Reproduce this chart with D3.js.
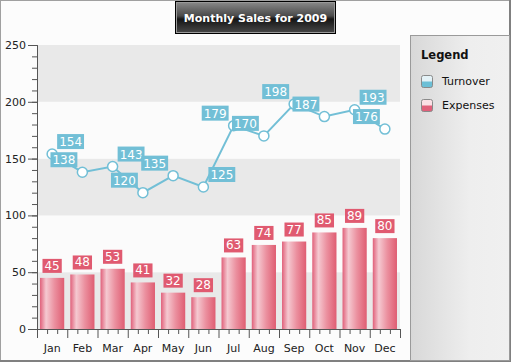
<!DOCTYPE html>
<html>
<head>
<meta charset="utf-8">
<script src="https://cdn.jsdelivr.net/npm/d3@7"></script>
<style>
  body { margin: 0; background: #fff; }
  svg { display: block; font-family: "DejaVu Sans", Verdana, sans-serif; }
</style>
</head>
<body>
<svg id="chart" width="511" height="362"></svg>
<script>
// chart data
var months = ["Jan", "Feb", "Mar", "Apr", "May", "Jun", "Jul", "Aug", "Sep", "Oct", "Nov", "Dec"];
var turnover = [154, 138, 143, 120, 135, 125, 179, 170, 198, 187, 193, 176];
var expenses = [45, 48, 53, 41, 32, 28, 63, 74, 77, 85, 89, 80];
var turnoverLabelSide = ["r", "l", "r", "l", "l", "r", "l", "l", "l", "l", "r", "l"];
var yTicks = [0, 50, 100, 150, 200, 250];
var seriesNames = ["Turnover", "Expenses"];

var svg = d3.select("#chart"),
    defs = svg.append("defs");

var plot = { left: 37, right: 400, top: 45, bottom: 329 };

// gradients
var barGrad = defs.append("linearGradient").attr("id", "barGrad");
[[0, "#e0607a"], [0.25, "#f5c9d1"], [0.6, "#eb909f"], [1, "#df5d72"]].forEach(function (s) {
  barGrad.append("stop").attr("offset", s[0]).attr("stop-color", s[1]);
});
var legGrad = defs.append("linearGradient").attr("id", "legGrad");
legGrad.append("stop").attr("offset", 0).attr("stop-color", "#d8d8d8");
legGrad.append("stop").attr("offset", 0.6).attr("stop-color", "#eeeeee");
legGrad.append("stop").attr("offset", 1).attr("stop-color", "#f0f0f0");
var titleGrad = defs.append("linearGradient").attr("id", "titleGrad")
  .attr("x1", 0).attr("y1", 0).attr("x2", 0).attr("y2", 1);
[[0, "#8c8c8c"], [0.45, "#4a4a4a"], [0.55, "#151515"], [1, "#4a4a4a"]].forEach(function (s) {
  titleGrad.append("stop").attr("offset", s[0]).attr("stop-color", s[1]);
});
var swatchColors = [["#e4f2f7", "#6cbfd6"], ["#fbe0e5", "#e0607a"]];
swatchColors.forEach(function (c, i) {
  var g = defs.append("linearGradient").attr("id", "sw" + i)
    .attr("x1", 0).attr("y1", 0).attr("x2", 0).attr("y2", 1);
  g.append("stop").attr("offset", 0).attr("stop-color", c[0]);
  g.append("stop").attr("offset", 0.45).attr("stop-color", c[0]);
  g.append("stop").attr("offset", 0.55).attr("stop-color", c[1]);
  g.append("stop").attr("offset", 1).attr("stop-color", c[1]);
});

// background + outer frame
svg.append("rect").attr("width", 511).attr("height", 362).attr("fill", "#fcfcfc");
svg.append("rect").attr("x", 0.5).attr("y", 0.5).attr("width", 509).attr("height", 360)
  .attr("fill", "none").attr("stroke", "#a0a0a0");
svg.append("rect").attr("x", 509).attr("y", 0).attr("width", 2).attr("height", 362).attr("fill", "#808080");
svg.append("rect").attr("x", 0).attr("y", 360).attr("width", 511).attr("height", 2).attr("fill", "#808080");

// scales
var x = d3.scaleBand().domain(months).range([plot.left, plot.right])
  .paddingInner(0.2).paddingOuter(0.1);
var xi = d3.scaleLinear().domain([0, months.length]).range([plot.left, plot.right]);
var y = d3.scaleLinear().domain([0, 250]).range([plot.bottom, plot.top]);

// alternating bands
var bands = d3.pairs(yTicks);
svg.append("g").selectAll("rect").data(bands).join("rect")
  .attr("x", plot.left).attr("width", plot.right - plot.left)
  .attr("y", function (d) { return y(d[1]); })
  .attr("height", function (d) { return y(d[0]) - y(d[1]); })
  .attr("fill", function (d, i) { return i % 2 === 0 ? "#e9e9e9" : "#fbfbfb"; });

// y axis
var yAxisG = svg.append("g").attr("transform", "translate(" + plot.left + ",0)");
yAxisG.call(d3.axisLeft(y).tickValues(d3.range(0, 251, 10)).tickSize(5).tickFormat(""));
yAxisG.append("g").call(d3.axisLeft(y).tickValues(yTicks).tickSize(9).tickPadding(2));
yAxisG.selectAll(".domain").attr("stroke", "#555");
yAxisG.selectAll("line").attr("stroke", "#555");
yAxisG.selectAll("text").attr("font-size", 11).attr("fill", "#222")
  .attr("font-family", "DejaVu Sans, sans-serif");

// bars
svg.append("g").selectAll("rect").data(expenses).join("rect")
  .attr("x", function (d, i) { return x(months[i]); })
  .attr("width", x.bandwidth())
  .attr("y", function (d) { return y(d); })
  .attr("height", function (d) { return y(0) - y(d); })
  .attr("fill", "url(#barGrad)");

// x axis
var xAxisG = svg.append("g").attr("transform", "translate(0," + plot.bottom + ")");
var minor = [];
for (var i = 0; i < months.length; i++) { minor.push(i + 1 / 3, i + 2 / 3); }
xAxisG.append("g").call(d3.axisBottom(xi).tickValues(minor).tickSize(5).tickFormat(""));
xAxisG.append("g").call(d3.axisBottom(xi).tickValues(d3.range(0, months.length + 1)).tickSize(9).tickFormat(""));
xAxisG.append("g").call(d3.axisBottom(x).tickSize(0).tickPadding(15));
xAxisG.selectAll(".domain").attr("stroke", "#555");
xAxisG.selectAll("line").attr("stroke", "#555");
xAxisG.selectAll("text").attr("font-size", 11).attr("fill", "#222")
  .attr("font-family", "DejaVu Sans, sans-serif");

// bar value labels
var barLabels = svg.append("g").selectAll("g").data(expenses).join("g");
barLabels.each(function (d, i) {
  var g = d3.select(this),
      cx = x(months[i]) + x.bandwidth() / 2,
      bottom = y(d) - 5;
  var rect = g.append("rect").attr("fill", "#e05a70");
  var t = g.append("text").text(d).attr("x", cx).attr("y", bottom - 3)
    .attr("text-anchor", "middle").attr("font-size", 12).attr("fill", "#fff");
  var w = t.node().getComputedTextLength() + 4;
  rect.attr("x", cx - w / 2).attr("y", bottom - 14).attr("width", w).attr("height", 14);
});

// turnover line
var lineColor = "#72bfd6";
var line = d3.line()
  .x(function (d, i) { return x(months[i]) + x.bandwidth() / 2; })
  .y(function (d) { return y(d); });
svg.append("path").datum(turnover).attr("d", line)
  .attr("fill", "none").attr("stroke", lineColor).attr("stroke-width", 2);
svg.append("g").selectAll("circle").data(turnover).join("circle")
  .attr("cx", function (d, i) { return x(months[i]) + x.bandwidth() / 2; })
  .attr("cy", function (d) { return y(d); })
  .attr("r", 5).attr("fill", "#fff").attr("stroke", lineColor).attr("stroke-width", 1.5);

// turnover labels
svg.append("g").selectAll("g").data(turnover).join("g").each(function (d, i) {
  var g = d3.select(this),
      px = x(months[i]) + x.bandwidth() / 2,
      bottom = y(d) - 5;
  var rect = g.append("rect").attr("fill", lineColor);
  var t = g.append("text").text(d).attr("font-size", 12).attr("fill", "#fff")
    .attr("text-anchor", "middle").attr("y", bottom - 3);
  var w = t.node().getComputedTextLength() + 4;
  var left = turnoverLabelSide[i] === "r" ? px + 5 : px - 5 - w;
  rect.attr("x", left).attr("y", bottom - 15).attr("width", w).attr("height", 15);
  t.attr("x", left + w / 2);
});

// title
var title = svg.append("g");
title.append("rect").attr("x", 175.5).attr("y", 1.5).attr("width", 160).attr("height", 32)
  .attr("fill", "url(#titleGrad)").attr("stroke", "#000");
title.append("rect").attr("x", 176.5).attr("y", 2.5).attr("width", 158).attr("height", 30)
  .attr("fill", "none").attr("stroke", "#9a9a9a");
title.append("text").text("Monthly Sales for 2009").attr("x", 255.5).attr("y", 22)
  .attr("text-anchor", "middle").attr("font-size", 11).attr("font-weight", "bold")
  .attr("fill", "#fff");

// legend
var legend = svg.append("g");
legend.append("rect").attr("x", 410.5).attr("y", 35.5).attr("width", 99).attr("height", 325)
  .attr("fill", "url(#legGrad)").attr("stroke", "#9a9a9a");
legend.append("text").text("Legend").attr("x", 421).attr("y", 59)
  .attr("font-size", 11.5).attr("font-weight", "bold").attr("fill", "#111");
var items = legend.selectAll("g.item").data(seriesNames).join("g").attr("class", "item")
  .attr("transform", function (d, i) { return "translate(421," + (75 + i * 24) + ")"; });
items.append("rect").attr("x", 0.5).attr("y", 0.5).attr("width", 11).attr("height", 12)
  .attr("rx", 2).attr("fill", function (d, i) { return "url(#sw" + i + ")"; })
  .attr("stroke", "#8a8a8a");
items.append("text").text(function (d) { return d; }).attr("x", 21).attr("y", 10)
  .attr("font-size", 11).attr("fill", "#111");
</script>
</body>
</html>
